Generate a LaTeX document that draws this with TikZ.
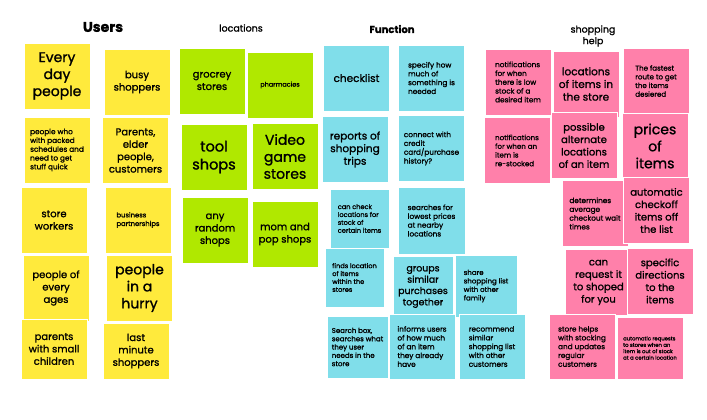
\documentclass[tikz,border=0pt]{standalone}
\usepackage{fontspec}
\setmainfont{Poppins}[RawFeature={embolden=1.2}]
\usepackage{xcolor}
\usepackage{tikz}
\definecolor{usercolor}{RGB}{255,234,60}
\definecolor{placecolor}{RGB}{176,232,0}
\definecolor{funccolor}{RGB}{128,222,234}
\definecolor{helpcolor}{RGB}{255,128,170}
\begin{document}
\begin{tikzpicture}[
    x=1pt, y=-1pt,
    note/.style={
        rectangle,
        draw=white,
        line width=0.6pt,
        minimum width=66pt,
        minimum height=66pt,
        inner sep=2pt,
        align=center
    },
    user/.style={note, fill=usercolor},
    place/.style={note, fill=placecolor},
    func/.style={note, fill=funccolor},
    help/.style={note, fill=helpcolor},
    big/.style={font=\fontsize{14}{17}\selectfont},
    mid/.style={font=\fontsize{10}{12.4}\selectfont},
    small/.style={font=\fontsize{7.3}{8.8}\selectfont, align=left},
    tiny/.style={font=\fontsize{5.3}{6.4}\selectfont, align=left},
    heading/.style={font=\fontsize{9.5}{11.5}\selectfont, align=center}
]
\useasboundingbox [fill=white] (0,0) rectangle (707,420);

%% USERS %%
\node (users_title) [heading, font=\fontsize{14}{17}\selectfont\bfseries] at (103,27) {Users};
\node (everyday) [user, big] at (57,76) {Every\\day\\people};
\node (busy) [user, mid] at (137,82) {busy\\shoppers};
\node (packed) [user, small] at (57,150) {people who\\with packed\\schedules and\\need to get\\stuff quick};
\node (parents) [user, mid] at (135.5,150.5) {Parents,\\elder\\people,\\customers};
\node (workers) [user, mid] at (54,220) {store\\workers};
\node (business) [user, small, font=\fontsize{6.8}{8.6}\selectfont] at (138,220) {business\\partnerships};
\node (ages) [user, mid] at (56,288) {people of\\every\\ages};
\node (hurry) [user, big] at (139.5,288) {people\\in a\\hurry};
\node (children) [user, mid, minimum height=60pt] at (54,349) {parents\\with small\\children};
\node (lastminute) [user, mid, minimum height=56pt] at (136,351) {last\\minute\\shoppers};

%% LOCATIONS %%
\node (places_title) [heading] at (241,28) {locations};
\node (grocery) [place, mid] at (212,81) {grocrey\\stores};
\node (pharmacy) [place, small, font=\fontsize{6.5}{8}\selectfont] at (280,85) {pharmacies};
\node (tools) [place, big, font=\fontsize{14.5}{18}\selectfont] at (214,157) {tool\\shops};
\node (games) [place, big] at (285,156.5) {Video\\game\\stores};
\node (random) [place, mid] at (215,230) {any\\random\\shops};
\node (momandpop) [place, mid] at (285,234) {mom and\\pop shops};

%% FUNCTION %%
\node (func_title) [heading, font=\fontsize{10}{12}\selectfont\bfseries] at (392,29) {Function};
\node (checklist) [func, mid, font=\fontsize{10.5}{12.5}\selectfont] at (356.5,78) {checklist};
\node (amount) [func, small] at (431.5,78) {specify how\\much of\\something is\\needed};
\node (reports) [func, mid, font=\fontsize{10.5}{12.6}\selectfont] at (355,149.5) {reports of\\shopping\\trips};
\node (credit) [func, small] at (431.5,148.5) {connect with\\credit\\card/purchase\\history?};
\node (stock) [func, small, font=\fontsize{6.6}{7.9}\selectfont, minimum width=59pt, minimum height=59pt] at (359.5,218.5) {can check\\locations for\\stock of\\certain items};
\node (prices) [func, small, minimum width=67pt, minimum height=67pt] at (431.5,220.5) {searches for\\lowest prices\\at nearby\\locations};
\node (finds) [func, small, font=\fontsize{6.6}{7.9}\selectfont, minimum width=59pt, minimum height=59pt] at (354.5,277.5) {finds location\\of items\\within the\\stores};
\node (groups) [func, mid, font=\fontsize{9.4}{11.3}\selectfont, minimum width=60pt, minimum height=62pt] at (423,287) {groups\\similar\\purchases\\together};
\node (share) [func, small, font=\fontsize{7}{8.5}\selectfont, minimum width=62pt, minimum height=62pt] at (486,286) {share\\shopping list\\with other\\family};
\node (searchbox) [func, small, font=\fontsize{7}{8.3}\selectfont, minimum width=61pt, minimum height=62pt] at (357.5,347) {Search box,\\searches what\\they user\\needs in the\\store};
\node (informs) [func, small, minimum height=65pt] at (422,346.5) {informs users\\of how much\\of an item\\they already\\have};
\node (recommend) [func, small, minimum height=65pt] at (492,346.5) {recommend\\similar\\shopping list\\with other\\customers};

%% SHOPPING HELP %%
\node (help_title) [heading] at (593,36) {shopping\\help};
\node (lowstock) [help, small] at (518,82) {notifications\\for when\\there is low\\stock of a\\desired item};
\node (itemloc) [help, mid, font=\fontsize{10.5}{12.7}\selectfont] at (586,84) {locations\\of items in\\the store};
\node (fastest) [help, small, font=\fontsize{7.1}{8.7}\selectfont] at (656,81) {The fastest\\route to get\\the items\\desiered};
\node (restock) [help, small, font=\fontsize{7.1}{8.7}\selectfont] at (517,150.5) {notifications\\for when an\\item is\\re-stocked};
\node (alternate) [help, mid] at (584,145.5) {possible\\alternate\\locations\\of an item};
\node (itemprices) [help, big] at (655,146) {prices\\of\\items};
\node (waittime) [help, small] at (595,213.5) {determines\\average\\checkout wait\\times};
\node (checkoff) [help, mid] at (656.5,210.5) {automatic\\checkoff\\items off\\the list};
\node (request) [help, mid] at (598.5,282.5) {can\\request it\\to shoped\\for you};
\node (directions) [help, mid] at (660,281) {specific\\directions\\to the\\items};
\node (stocking) [help, small, minimum height=65pt] at (582,346.5) {store helps\\with stocking\\and updates\\regular\\customers};
\node (outofstock) [help, tiny, minimum height=62pt] at (650,348) {automatic requests\\to stores when an\\item is out of stock\\at a certain location};

\end{tikzpicture}
\end{document}
